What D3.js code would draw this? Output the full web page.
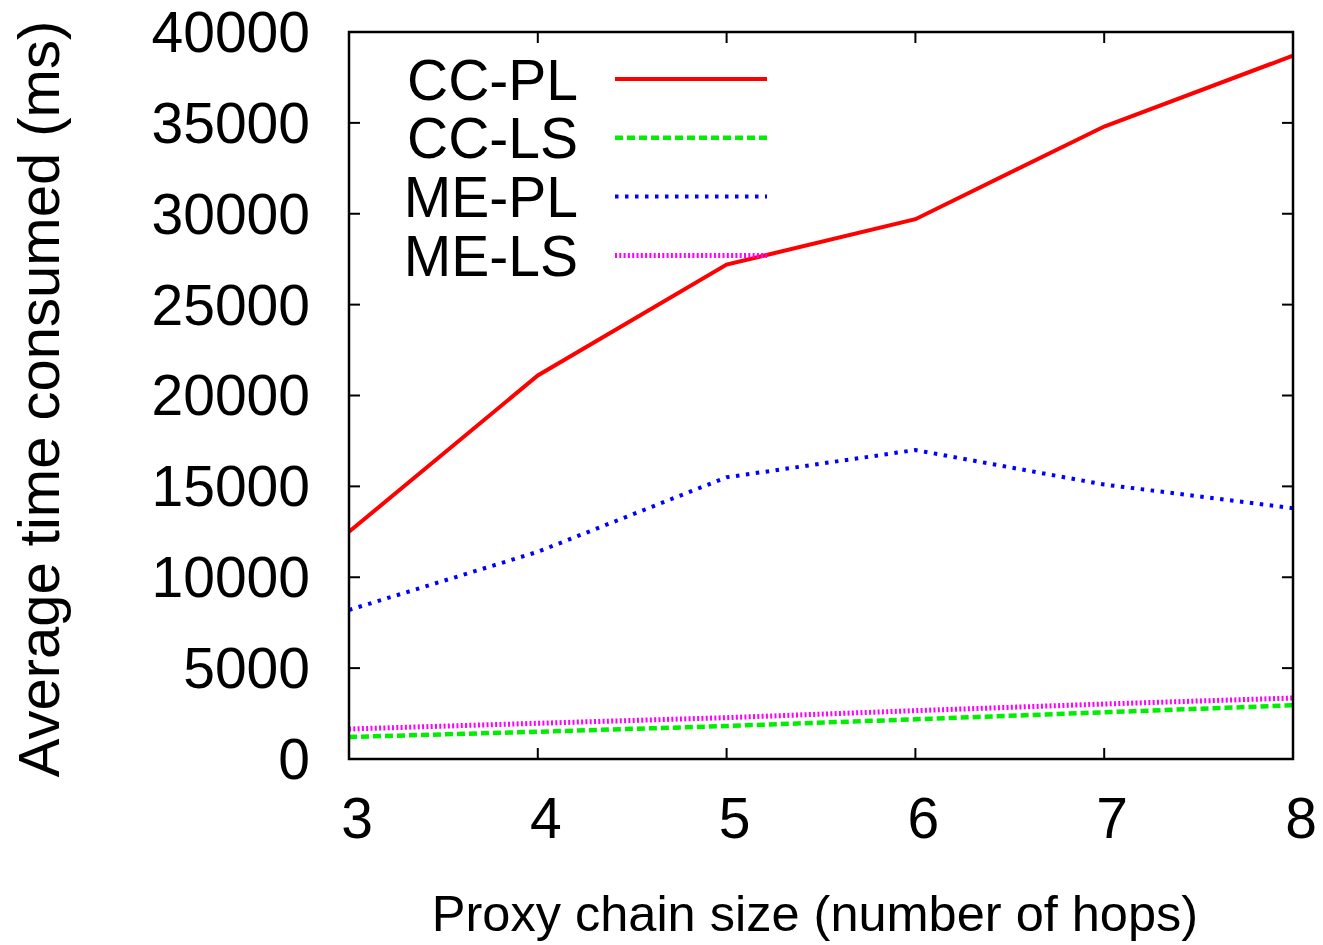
<!DOCTYPE html>
<html>
<head>
<meta charset="utf-8">
<script src="https://cdn.jsdelivr.net/npm/d3@7"></script>
<style>
  body { margin: 0; background: #fff; }
  text { font-family: "Liberation Sans", Arial, sans-serif; fill: #000; }
</style>
</head>
<body>
<div id="chart"></div>
<script>
// hops on the x axis
const hops = [3, 4, 5, 6, 7, 8];
// average time consumed (ms), one array per series
const ccPL = [12500, 21100, 27200, 29700, 34800, 38700];
const ccLS = [1210, 1500, 1815, 2185, 2570, 2955];
const mePL = [8200, 11400, 15500, 17000, 15100, 13800];
const meLS = [1650, 1965, 2275, 2660, 3025, 3355];
const seriesNames = ["CC-PL", "CC-LS", "ME-PL", "ME-LS"];
const yTicks = [0, 5000, 10000, 15000, 20000, 25000, 30000, 35000, 40000];

const width = 1323, height = 945;

const styles = [
  { col: "#ff0000", w: 4, dash: null },
  { col: "#00ee00", w: 4.5, dash: "8,4" },
  { col: "#0000ff", w: 4, dash: "3.5,6.5" },
  { col: "#ff00ff", w: 5, dash: "2,2.3" }
];
const values = [ccPL, ccLS, mePL, meLS];

const svg = d3.select("#chart").append("svg")
    .attr("width", width)
    .attr("height", height);

const x = d3.scaleLinear().domain([3, 8]).range([349, 1293]);
const y = d3.scaleLinear().domain([0, 40000]).range([759, 32]);

// tick marks (inward, mirrored)
const tickLen = 11;
const ticks = svg.append("g").attr("stroke", "#000").attr("stroke-width", 2);
hops.forEach(h => {
  ticks.append("line").attr("x1", x(h)).attr("x2", x(h)).attr("y1", y(0)).attr("y2", y(0) - tickLen);
  ticks.append("line").attr("x1", x(h)).attr("x2", x(h)).attr("y1", y(40000)).attr("y2", y(40000) + tickLen);
});
yTicks.forEach(t => {
  ticks.append("line").attr("x1", x(3)).attr("x2", x(3) + tickLen).attr("y1", y(t)).attr("y2", y(t));
  ticks.append("line").attr("x1", x(8)).attr("x2", x(8) - tickLen).attr("y1", y(t)).attr("y2", y(t));
});

// tick labels
svg.append("g").selectAll("text")
  .data(yTicks)
  .join("text")
    .attr("x", 310)
    .attr("y", d => y(d))
    .attr("dy", "0.35em")
    .attr("text-anchor", "end")
    .attr("font-size", 57)
    .text(d => d);

svg.append("g").selectAll("text")
  .data(hops)
  .join("text")
    .attr("x", d => x(d) + 8)
    .attr("y", 838)
    .attr("text-anchor", "middle")
    .attr("font-size", 57)
    .text(d => d);

// axis titles
svg.append("text")
    .attr("x", 815)
    .attr("y", 931)
    .attr("text-anchor", "middle")
    .attr("font-size", 50.5)
    .text("Proxy chain size (number of hops)");

svg.append("text")
    .attr("transform", "translate(59,399) rotate(-90)")
    .attr("text-anchor", "middle")
    .attr("font-size", 58)
    .text("Average time consumed (ms)");

// series lines
const line = d3.line()
    .x((d, i) => x(hops[i]))
    .y(d => y(d));

values.forEach((v, k) => {
  svg.append("path")
      .datum(v)
      .attr("fill", "none")
      .attr("stroke", styles[k].col)
      .attr("stroke-width", styles[k].w)
      .attr("stroke-dasharray", styles[k].dash)
      .attr("d", line);
});

// legend
const legend = svg.append("g");
seriesNames.forEach((name, k) => {
  const ly = 79 + k * 58.8;
  legend.append("text")
      .attr("x", 578)
      .attr("y", ly)
      .attr("dy", "0.36em")
      .attr("text-anchor", "end")
      .attr("font-size", 57)
      .text(name);
  legend.append("line")
      .attr("x1", 615).attr("x2", 767)
      .attr("y1", ly).attr("y2", ly)
      .attr("stroke", styles[k].col)
      .attr("stroke-width", styles[k].w)
      .attr("stroke-dasharray", styles[k].dash);
});

// frame
svg.append("rect")
    .attr("x", 349).attr("y", 32)
    .attr("width", 1293 - 349).attr("height", 759 - 32)
    .attr("fill", "none")
    .attr("stroke", "#000")
    .attr("stroke-width", 2.5);
</script>
</body>
</html>
